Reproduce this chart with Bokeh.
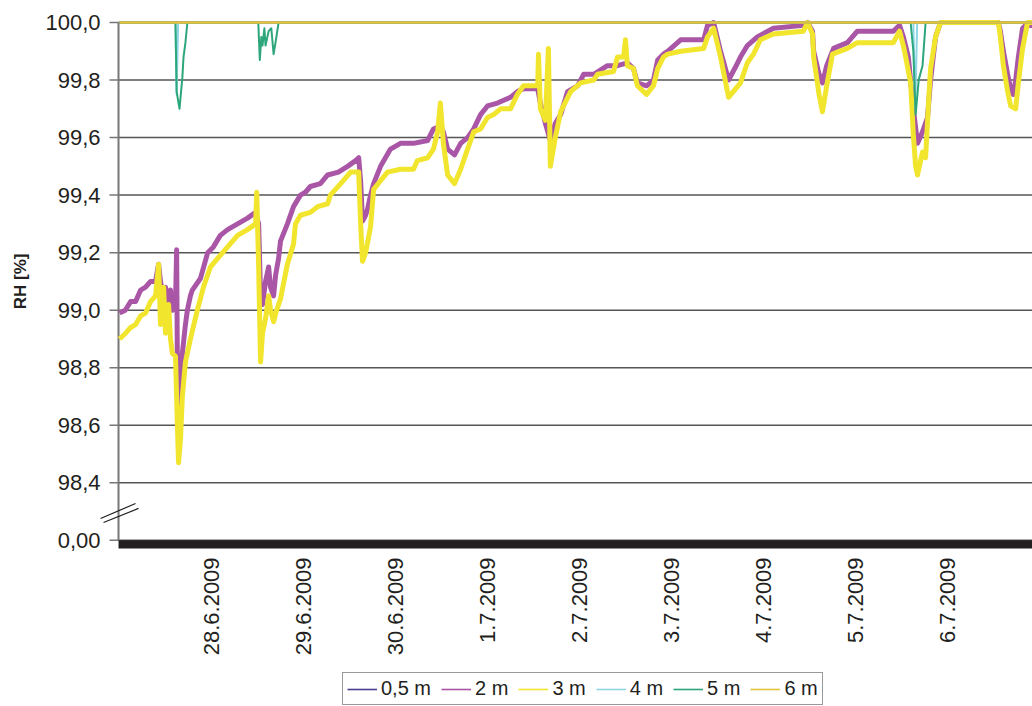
import math
from bokeh.plotting import figure
from bokeh.models import Range1d, Legend, LegendItem, BoxAnnotation
from bokeh.core.properties import value
from bokeh.embed import file_html
from bokeh.resources import INLINE

# time axis: hours since 27.6.2009 00:00
date_ticks = [24, 48, 72, 96, 120, 144, 168, 192, 216]
date_labels = ["28.6.2009", "29.6.2009", "30.6.2009", "1.7.2009", "2.7.2009",
               "3.7.2009", "4.7.2009", "5.7.2009", "6.7.2009"]

rh_ticks = [98.2, 98.4, 98.6, 98.8, 99.0, 99.2, 99.4, 99.6, 99.8, 100.0]
rh_tick_labels = ["0,00", "98,4", "98,6", "98,8", "99,0", "99,2", "99,4", "99,6", "99,8", "100,0"]
y_title = "RH [%]"

h_05m = [0, 238.2]
rh_05m = [100.0, 100.0]

h_2m = [0, 1.5, 2.9, 4.2, 5.5, 6.8, 8.1, 9.4, 10.2, 10.7, 11.5, 12.0, 12.8, 13.3, 13.8, 14.6,
        14.9, 15.1, 15.4, 15.9, 16.4, 17.2, 17.7, 18.5, 19.0, 21.1, 23.0, 24.5, 26.3, 28.2,
        30.8, 33.4, 35.5, 36.3, 36.8, 37.3, 38.1, 38.9, 39.4, 40.2, 40.7, 41.5, 42.0, 43.8,
        45.4, 47.2, 48.5, 49.8, 52.4, 54.3, 57.1, 59.5, 61.6, 62.4, 62.9, 63.4, 64.2, 64.7,
        65.5, 66.3, 68.1, 70.7, 73.3, 76.7, 80.4, 81.9, 83.7, 84.5, 85.6, 87.4, 89.0, 90.8,
        92.4, 94.2, 96.0, 98.6, 102.0, 103.8, 105.4, 109.1, 109.8, 111.1, 112.4, 113.7, 115.1,
        116.9, 119.5, 121.1, 123.7, 127.3, 129.9, 132.5, 134.1, 135.1, 137.5, 139.3, 140.4,
        141.9, 143.0, 146.4, 152.4, 153.4, 155.0, 156.8, 158.9, 160.5, 162.0, 163.8, 166.4,
        170.6, 178.4, 179.5, 180.8, 181.1, 182.5, 183.4, 184.5, 186.3, 189.9, 192.5, 201.9,
        203.5, 204.5, 205.8, 207.1, 208.2, 209.5, 210.8, 211.6, 212.9, 214.2, 229.3, 229.8,
        230.6, 231.7, 232.5, 233.2, 233.8, 234.5, 235.6, 236.4, 238.2]
rh_2m = [98.99, 99.00, 99.03, 99.03, 99.07, 99.08, 99.10, 99.10, 99.16, 99.10, 99.04, 99.08, 99.01, 99.07, 99.00, 99.02,
         99.21, 98.80, 98.65, 98.70, 98.85, 98.95, 99.00, 99.05, 99.07, 99.11, 99.20, 99.22, 99.26, 99.28,
         99.30, 99.32, 99.34, 99.30, 99.05, 99.02, 99.10, 99.15, 99.08, 99.05, 99.12, 99.18, 99.24, 99.30,
         99.36, 99.40, 99.41, 99.43, 99.44, 99.47, 99.48, 99.50, 99.52, 99.53, 99.45, 99.31, 99.33, 99.35,
         99.40, 99.44, 99.50, 99.56, 99.58, 99.58, 99.59, 99.63, 99.64, 99.62, 99.56, 99.54, 99.58, 99.60,
         99.63, 99.68, 99.71, 99.72, 99.74, 99.76, 99.77, 99.77, 99.72, 99.65, 99.59, 99.65, 99.68,
         99.76, 99.78, 99.82, 99.82, 99.85, 99.85, 99.86, 99.84, 99.79, 99.78, 99.80, 99.87,
         99.89, 99.90, 99.94, 99.94, 99.99, 100.0, 99.90, 99.80, 99.84, 99.88, 99.92, 99.95,
         99.98, 99.99, 100.0, 99.97, 99.90, 99.82, 99.79, 99.85, 99.91, 99.93, 99.97, 99.97,
         99.99, 99.95, 99.88, 99.70, 99.58, 99.62, 99.67, 99.80, 99.95, 100.0, 100.0, 99.97,
         99.90, 99.82, 99.77, 99.75, 99.80, 99.88, 99.98, 99.99, 99.99]

h_3m = [0, 1.6, 2.9, 4.2, 5.5, 6.8, 8.1, 9.4, 10.2, 10.7, 11.5, 12.0, 12.8, 13.3, 13.8, 14.6,
        15.1, 15.4, 15.9, 16.4, 17.2, 18.5, 20.3, 21.9, 23.7, 25.6, 28.2, 30.8, 33.4, 35.5,
        35.8, 36.3, 36.8, 37.3, 38.1, 38.9, 39.4, 40.2, 41.0, 42.0, 43.8, 45.4, 45.9, 47.2,
        49.8, 51.7, 54.3, 55.0, 57.7, 60.3, 62.4, 62.9, 63.4, 64.2, 65.5, 66.3, 68.1, 69.9,
        73.3, 76.7, 77.7, 80.4, 81.9, 83.0, 83.7, 84.5, 85.6, 87.4, 89.0, 90.8, 92.4, 94.2,
        96.0, 97.6, 99.4, 102.0, 103.8, 105.4, 109.1, 109.3, 109.8, 111.1, 111.9, 112.4, 113.7,
        115.1, 117.7, 120.3, 123.7, 124.7, 128.9, 129.9, 131.5, 132.0, 132.5, 134.1, 135.1,
        137.5, 139.3, 140.4, 141.9, 143.0, 146.4, 152.4, 153.4, 155.0, 156.8, 158.9, 162.0,
        163.8, 165.4, 167.2, 170.6, 178.4, 179.5, 180.8, 181.1, 182.5, 183.4, 184.5, 186.0,
        189.9, 192.5, 201.9, 203.5, 204.5, 205.1, 206.4, 207.1, 207.7, 208.2, 209.0, 209.5,
        210.3, 211.1, 211.6, 212.9, 214.2, 229.3, 229.8, 230.6, 231.7, 232.5, 233.8, 234.5,
        235.6, 236.9, 238.2]
rh_3m = [98.90, 98.92, 98.94, 98.95, 98.98, 98.99, 99.03, 99.05, 99.16, 98.95, 99.08, 98.92, 99.02, 98.90, 98.85, 98.84,
         98.60, 98.47, 98.55, 98.70, 98.82, 98.90, 99.00, 99.08, 99.15, 99.18, 99.22, 99.26, 99.28, 99.30,
         99.41, 99.15, 98.82, 98.92, 98.97, 99.05, 99.00, 98.96, 99.00, 99.04, 99.16, 99.23, 99.30, 99.33,
         99.34, 99.36, 99.37, 99.40, 99.44, 99.48, 99.48, 99.30, 99.17, 99.20, 99.29, 99.42, 99.45, 99.48,
         99.49, 99.49, 99.52, 99.53, 99.56, 99.62, 99.72, 99.58, 99.47, 99.44, 99.49, 99.56, 99.62, 99.63,
         99.67, 99.68, 99.70, 99.70, 99.75, 99.78, 99.78, 99.89, 99.70, 99.66, 99.91, 99.50, 99.60,
         99.69, 99.76, 99.79, 99.80, 99.82, 99.83, 99.88, 99.88, 99.94, 99.85, 99.84, 99.78,
         99.75, 99.78, 99.84, 99.88, 99.89, 99.90, 99.91, 99.95, 99.98, 99.88, 99.74, 99.79,
         99.86, 99.89, 99.94, 99.96, 99.97, 100.0, 99.96, 99.88, 99.75, 99.69, 99.78, 99.89,
         99.91, 99.93, 99.93, 99.97, 99.92, 99.88, 99.79, 99.61, 99.50, 99.47, 99.52, 99.55,
         99.53, 99.73, 99.84, 99.95, 100.0, 100.0, 99.95, 99.85, 99.76, 99.71, 99.70, 99.79,
         99.91, 100.0, 100.0]

h_4m = [0, 14.6, 14.9, 15.3, 207.1, 207.6, 208.1, 238.2]
rh_4m = [100.0, 100.0, 99.75, 100.0, 100.0, 99.70, 100.0, 100.0]

h_5m = [0, 14.6, 14.9, 15.65, 16.4, 16.7, 17.2, 17.7, 36.2, 36.6, 37.0, 37.3, 37.8, 38.1, 38.9,
        39.6, 40.2, 40.7, 41.5, 206.4, 207.1, 207.7, 208.5, 209.5, 210.3, 238.2]
rh_5m = [100.0, 100.0, 99.76, 99.70, 99.81, 99.88, 99.93, 100.0, 100.0, 99.87, 99.95, 99.92, 99.98, 99.92, 99.97,
         99.98, 99.89, 99.93, 100.0, 100.0, 99.90, 99.68, 99.80, 99.85, 100.0, 100.0]

h_6m = [0, 238.2]
rh_6m = [100.0, 100.0]

series = [
    ("0,5 m", h_05m, rh_05m, "#4B3E8E", 2.5),
    ("2 m", h_2m, rh_2m, "#AA56A6", 5),
    ("3 m", h_3m, rh_3m, "#F1E52E", 5),
    ("4 m", h_4m, rh_4m, "#8ED6E4", 2),
    ("5 m", h_5m, rh_5m, "#2CA67A", 2),
    ("6 m", h_6m, rh_6m, "#E4C23C", 2.5),
]

FONT = "Liberation Sans"
TXT = "#231F20"

W, H = 1032, 706
x0, x1 = -31.05, 238.19    # hours across the whole canvas
y0, y1 = 97.6225, 100.0765 # RH across the whole canvas
xa = -0.26                 # start of the category axis (y axis line)
y_bar = 98.172             # lower edge of the bottom bar
pxh = W / (x1 - x0)
pxv = H / (y1 - y0)

p = figure(width=W, height=H, output_backend="svg", toolbar_location=None,
           x_range=Range1d(x0, x1), y_range=Range1d(y0, y1),
           min_border=0, outline_line_color=None, background_fill_color="white")
p.xaxis.visible = False
p.yaxis.visible = False
p.xgrid.grid_line_color = None
p.ygrid.grid_line_color = None

n = len(rh_ticks)
# horizontal grid lines starting at the axis
p.segment(x0=[xa] * n, y0=rh_ticks, x1=[x1] * n, y1=rh_ticks, line_color="#555555", line_width=1.5)
# y axis line and outside tick marks
p.segment(x0=[xa], y0=[rh_ticks[0]], x1=[xa], y1=[rh_ticks[-1]], line_color="#777777", line_width=2)
p.segment(x0=[xa - 9 / pxh] * n, y0=rh_ticks, x1=[xa] * n, y1=rh_ticks, line_color="#777777", line_width=1.5)

legend_items = []
for name, hx, ry, col, lw in series:
    p.line(hx, ry, line_color=col, line_width=lw, line_join="round")
    dummy = p.line(x=[hx[0], hx[0]], y=[float("nan"), float("nan")], line_color=col, line_width=1.6)
    legend_items.append(LegendItem(label=name, renderers=[dummy]))

# axis break marks: two parallel slashes across the y axis
yb = (rh_ticks[0] + rh_ticks[1]) / 2
p.segment(x0=[xa - 18 / pxh, xa - 15 / pxh], y0=[yb - 0.024, yb - 0.038],
          x1=[xa + 17 / pxh, xa + 20 / pxh], y1=[yb + 0.028, yb + 0.011],
          line_color="#231F20", line_width=1.2)

# bottom bar of the broken axis
p.add_layout(BoxAnnotation(top=rh_ticks[0], bottom=y_bar, left=xa,
                           fill_color="#231F20", fill_alpha=1.0, line_color=None))

# y tick labels
p.text(x=[xa] * n, y=rh_ticks, text=rh_tick_labels, x_offset=-18,
       text_align="right", text_baseline="middle",
       text_font=value(FONT), text_font_size="22px", text_color=TXT)
# y title
p.text(x=[xa - 98 / pxh], y=[(rh_ticks[0] + rh_ticks[-1]) / 2], text=[y_title], angle=math.pi / 2,
       text_align="center", text_baseline="middle", text_font=value(FONT),
       text_font_style="bold", text_font_size="17px", text_color=TXT)
# x (date) labels, rotated
p.text(x=date_ticks, y=[y_bar - 9 / pxv] * len(date_ticks), text=date_labels, angle=math.pi / 2,
       text_align="right", text_baseline="middle",
       text_font=value(FONT), text_font_size="22px", text_color=TXT)

legend = Legend(items=legend_items, orientation="horizontal", location=(342, 1),
                border_line_color="#333333", border_line_width=1.2, background_fill_color="white",
                padding=4, spacing=10, margin=0, glyph_width=30, glyph_height=20, label_standoff=4,
                label_text_font=FONT, label_text_font_size="20px", label_text_color=TXT)
p.add_layout(legend)

open("out.html", "w").write(file_html(p, INLINE))
